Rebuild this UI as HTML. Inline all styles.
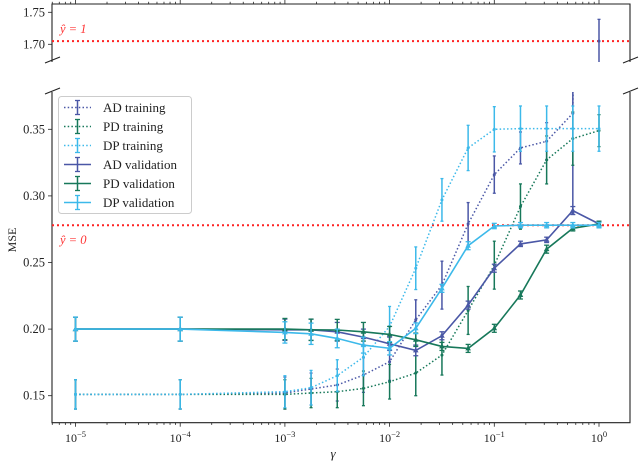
<!DOCTYPE html>
<html><head><meta charset="utf-8"><style>
body{margin:0;background:#fff}
svg{display:block;font-family:"Liberation Serif",serif}
</style></head><body>
<svg id="chart" width="640" height="462" viewBox="0 0 640 462" xmlns="http://www.w3.org/2000/svg">
<defs>
<clipPath id="cm"><rect x="52" y="92" width="578" height="331"/></clipPath>
<clipPath id="ct"><rect x="52" y="4" width="578" height="58"/></clipPath>
</defs>
<g id="axes"></g>
<g id="marks"></g>
<g id="legend"></g>
</svg>
<script>
const gammas = [1e-5,1e-4,1e-3,1.778e-3,3.162e-3,5.623e-3,1e-2,1.778e-2,3.162e-2,5.623e-2,0.1,0.1778,0.3162,0.5623,1];
const seriesNames = ["AD training","PD training","DP training","AD validation","PD validation","DP validation"];
const adTrain = [0.151,0.151,0.152,0.155,0.158,0.1655,0.1755,0.207,0.233,0.279,0.316,0.336,0.341,0.362,1.705];
const adTrainErr = [0.011,0.011,0.012,0.012,0.012,0.013,0.014,0.015,0.018,0.016,0.014,0.012,0.014,0.075,0.034];
const pdTrain = [0.151,0.151,0.151,0.152,0.153,0.1555,0.1605,0.167,0.1805,0.214,0.248,0.292,0.327,0.343,0.349];
const pdTrainErr = [0.011,0.011,0.011,0.011,0.012,0.013,0.013,0.017,0.015,0.018,0.018,0.017,0.018,0.02,0.012];
const dpTrain = [0.151,0.151,0.153,0.156,0.165,0.179,0.202,0.2457,0.297,0.336,0.35,0.3505,0.3505,0.3505,0.3505];
const dpTrainErr = [0.011,0.011,0.012,0.013,0.012,0.014,0.015,0.016,0.016,0.017,0.017,0.017,0.017,0.017,0.017];
const adVal = [0.2,0.2,0.1995,0.1995,0.198,0.194,0.189,0.184,0.195,0.218,0.2457,0.264,0.267,0.289,0.279];
const adValErr = [0.009,0.009,0.008,0.008,0.007,0.006,0.005,0.004,0.003,0.003,0.003,0.002,0.002,0.003,0.002];
const pdVal = [0.2,0.2,0.2,0.1995,0.1993,0.198,0.196,0.192,0.187,0.1855,0.2006,0.2256,0.26,0.2757,0.279];
const pdValErr = [0.009,0.009,0.008,0.008,0.008,0.007,0.006,0.005,0.003,0.003,0.003,0.003,0.003,0.002,0.002];
const dpVal = [0.2,0.2,0.1975,0.1965,0.193,0.188,0.1856,0.2006,0.2306,0.2626,0.2774,0.278,0.278,0.278,0.278];
const dpValErr = [0.009,0.009,0.008,0.008,0.007,0.006,0.005,0.004,0.003,0.003,0.002,0.002,0.002,0.002,0.002];
const yTicksMain = [0.15,0.20,0.25,0.30,0.35];
const yTicksTop = [1.70,1.75];
const xTickExps = [-5,-4,-3,-2,-1,0];
const baselineZero = 0.278, baselineOne = 1.705;

const NS="http://www.w3.org/2000/svg";
function X(g){return 75.5+(Math.log10(g)+5)*104.7;}
function YM(v){return 395.7-(v-0.15)*1332;}
function YT(v){return 44.3-(v-1.70)*640;}
function isTop(v){return v>1;}
function Y(v){return isTop(v)?YT(v):YM(v);}
function mk(tag,attrs,parent){const e=document.createElementNS(NS,tag);for(const k in attrs)e.setAttribute(k,attrs[k]);parent.appendChild(e);return e;}
const axes=document.getElementById('axes'), marks=document.getElementById('marks'), leg=document.getElementById('legend');
const ax={stroke:"#222","stroke-width":1.1,fill:"none"};

let e;
e=mk('path',Object.assign({d:"M52,62 V4 H630 V62"},ax),axes);

e=mk('path',Object.assign({d:"M52,92 V422.7 H630 V92"},ax),axes);

[[45,63,60,57],[45,94,60,88],[623,63,638,57],[623,94,638,88]].forEach(b=>{
 e=mk('line',Object.assign({x1:b[0],y1:b[1],x2:b[2],y2:b[3]},ax),axes);
 
});
for(let d=-6;d<=0;d++){
 for(let m=1;m<10;m++){
  const g=m*Math.pow(10,d);const x=X(g);
  if(x<52||x>630)continue;
  const L=m===1?4:2.2;
  mk('line',{x1:x,y1:422.7,x2:x,y2:422.7+L,stroke:"#222","stroke-width":0.8},axes);
  mk('line',{x1:x,y1:4,x2:x,y2:4-L,stroke:"#222","stroke-width":0.8},axes);
 }
}
xTickExps.forEach(p=>{
 const t=mk('text',{x:X(Math.pow(10,p)),y:442,"text-anchor":"middle","font-size":12,fill:"#222"},axes);
 
 t.textContent="10";
 const s=mk('tspan',{dy:-5,"font-size":8.5},t);s.textContent=(p<0?"−":"")+Math.abs(p);
});
yTicksMain.forEach(v=>{
 mk('line',{x1:52,y1:YM(v),x2:48,y2:YM(v),stroke:"#222","stroke-width":0.8},axes);
 const t=mk('text',{x:45,y:YM(v)+4,"text-anchor":"end","font-size":12.5,fill:"#222"},axes);
 
 t.textContent=v.toFixed(2);
});
yTicksTop.forEach(v=>{
 mk('line',{x1:52,y1:YT(v),x2:48,y2:YT(v),stroke:"#222","stroke-width":0.8},axes);
 const t=mk('text',{x:45,y:YT(v)+4,"text-anchor":"end","font-size":12.5,fill:"#222"},axes);
 
 t.textContent=v.toFixed(2);
});
e=mk('text',{x:333,y:458,"text-anchor":"middle","font-size":13,"font-style":"italic",fill:"#222"},axes);
e.textContent="γ";
e=mk('text',{x:0,y:0,transform:"translate(16,240) rotate(-90)","text-anchor":"middle","font-size":12,fill:"#222"},axes);
e.textContent="MSE";

e=mk('line',{x1:52,x2:630,y1:YM(baselineZero),y2:YM(baselineZero),stroke:"#f22","stroke-width":2,"stroke-dasharray":"2 3"},marks);

e=mk('line',{x1:52,x2:630,y1:YT(baselineOne),y2:YT(baselineOne),stroke:"#f22","stroke-width":2,"stroke-dasharray":"2 3"},marks);

e=mk('text',{x:60,y:YM(baselineZero)+19,"font-size":12.5,"font-style":"italic",fill:"#f33"},marks);
e.textContent="ŷ = 0";
e=mk('text',{x:60,y:YT(baselineOne)-8,"font-size":12.5,"font-style":"italic",fill:"#f33"},marks);
e.textContent="ŷ = 1";

const series=[
 {name:"ad-training",vals:adTrain,err:adTrainErr,c:"#4a57a6",dot:true},
 {name:"pd-training",vals:pdTrain,err:pdTrainErr,c:"#17785a",dot:true},
 {name:"dp-training",vals:dpTrain,err:dpTrainErr,c:"#3cb9ea",dot:true},
 {name:"ad-validation",vals:adVal,err:adValErr,c:"#4a57a6",dot:false},
 {name:"pd-validation",vals:pdVal,err:pdValErr,c:"#17785a",dot:false},
 {name:"dp-validation",vals:dpVal,err:dpValErr,c:"#3cb9ea",dot:false}
];
series.forEach(s=>{
 const g=mk('g',{},marks);
 
 
 let d="";
 s.vals.forEach((v,i)=>{d+=(i?"L":"M")+X(gammas[i]).toFixed(1)+","+YM(v).toFixed(1);});
 mk('path',{d:d,fill:"none",stroke:s.c,"stroke-width":s.dot?1.5:1.6,"stroke-dasharray":s.dot?"1.5 2.2":"none","clip-path":"url(#cm)"},g);
 s.vals.forEach((v,i)=>{
  const x=X(gammas[i]);const cp=isTop(v)?"url(#ct)":"url(#cm)";
  const y1=Y(v+s.err[i]),y2=Y(v-s.err[i]),y=Y(v);
  const eb=mk('g',{"clip-path":cp},g);
  
  
  mk('line',{x1:x,x2:x,y1:y1,y2:y2,stroke:s.c,"stroke-width":1.5},eb);
  const cw=s.dot?1.5:2.5;
  mk('line',{x1:x-cw,x2:x+cw,y1:y1,y2:y1,stroke:s.c,"stroke-width":1.3},eb);
  mk('line',{x1:x-cw,x2:x+cw,y1:y2,y2:y2,stroke:s.c,"stroke-width":1.3},eb);
  let m;
  if(s.dot){m=mk('circle',{cx:x,cy:y,r:1.5,fill:s.c,"clip-path":cp},g);}
  else{m=mk('path',{d:`M${x},${y-3}L${x+2.8},${y+2}L${x-2.8},${y+2}Z`,fill:s.c,"clip-path":cp},g);}
  
  
 });
});

e=mk('rect',{x:58.5,y:96.5,width:133,height:117,rx:3,fill:"#fff","fill-opacity":0.85,stroke:"#ccc","stroke-width":1},leg);

seriesNames.forEach((n,i)=>{
 const s=series[i];const y=107.5+i*19;
 const g=mk('g',{},leg);
 
 
 mk('line',{x1:64,x2:91,y1:y,y2:y,stroke:s.c,"stroke-width":1.5,"stroke-dasharray":s.dot?"1.5 2.2":"none"},g);
 mk('line',{x1:77.5,x2:77.5,y1:y-7,y2:y+7,stroke:s.c,"stroke-width":1.5},g);
 mk('line',{x1:75,x2:80,y1:y-7,y2:y-7,stroke:s.c,"stroke-width":1.3},g);
 mk('line',{x1:75,x2:80,y1:y+7,y2:y+7,stroke:s.c,"stroke-width":1.3},g);
 const t=mk('text',{x:103,y:y+4.5,"font-size":13,fill:"#222"},g);t.textContent=n;
});
</script>
</body></html>
